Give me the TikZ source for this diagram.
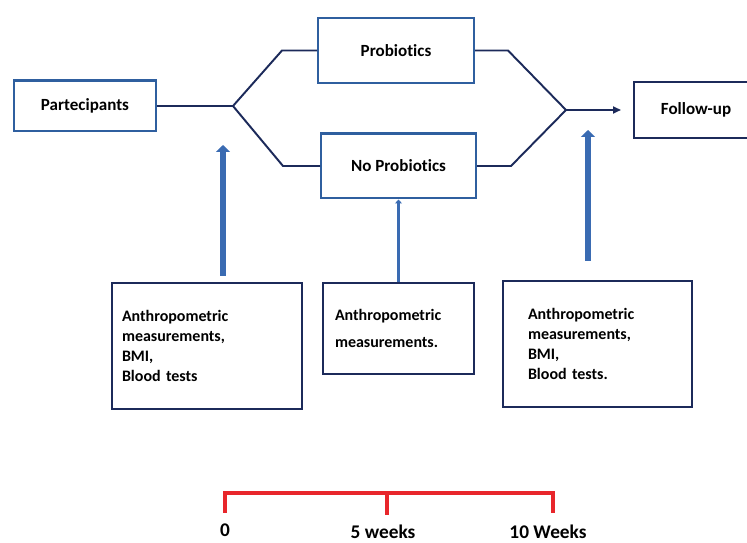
\documentclass[tikz,border=0pt]{standalone}
\usepackage{fontspec}
\setmainfont{Carlito}[Ligatures=NoCommon]
\usetikzlibrary{arrows.meta}
\definecolor{boxblue}{HTML}{2F5F9F}
\definecolor{navy}{HTML}{1C2A5A}
\definecolor{arrblue}{HTML}{3A6BB2}
\definecolor{tlred}{HTML}{E8262B}
\tikzset{
  armbox/.style={draw=boxblue, line width=1.15pt, fill=white, font=\fontsize{9.7}{12}\selectfont\bfseries},
  measbox/.style={draw=navy, line width=1.3pt, align=left, font=\fontsize{9.1}{11.4}\selectfont\bfseries},
  link/.style={draw=navy, line width=1.1pt},
  upthick/.style={draw=arrblue, line width=3.4pt, -{Triangle[length=0.14cm,width=0.28cm]}},
  upthin/.style={draw=arrblue, line width=1.5pt, -{Triangle[length=0.08cm,width=0.14cm]}},
  weeklabel/.style={font=\fontsize{11}{13}\selectfont\bfseries}
}
\begin{document}
\begin{tikzpicture}[x=0.02cm,y=-0.02cm]
			\useasboundingbox (0,0) rectangle (747,543);
			% Draw study arms
			\node[armbox, minimum width=2.84cm, minimum height=1.02cm] (part) at (85,106) {Partecipants};
			\node[armbox, minimum width=3.12cm, minimum height=1.3cm] (prob) at (396,50.5) {Probiotics};
			\node[armbox, minimum width=3.1cm, minimum height=1.3cm] (noprob) at (398.5,166) {No Probiotics};
			\node[armbox, draw=navy, minimum width=2.48cm, minimum height=1.12cm] (follow) at (696,110) {Follow-up};
			% Draw split and merge
			\coordinate (split) at (233,106);
			\coordinate (merge) at (566,110);
			\draw[link] (part.east) -- (split);
			\draw[link] (split) -- (282,50.5) -- (prob.west);
			\draw[link] (split) -- (283,166) -- (noprob.west);
			\draw[link] (prob.east) -- (508,50.5) -- (merge);
			\draw[link] (noprob.east) -- (511,166) -- (merge);
			\draw[link, -{Triangle[length=0.16cm,width=0.14cm]}, shorten >=0.24cm] (merge) -- (follow.west);
			% Draw measurement boxes
			\node[measbox, text width=3.4cm, minimum width=3.8cm, minimum height=2.52cm, inner xsep=0.2cm] (m0) at (207,346)
				{Anthropometric\\measurements,\\BMI,\\Blood tests};
			\node[measbox, text width=2.54cm, minimum width=3.02cm, minimum height=1.82cm, inner xsep=0.24cm] (m5) at (398.5,328.5)
				{Anthropometric\\[4pt]measurements.\\[6pt]};
			\node[measbox, text width=2.78cm, minimum width=3.78cm, minimum height=2.52cm, inner xsep=0.5cm] (m10) at (597.5,344)
				{Anthropometric\\measurements,\\BMI,\\Blood tests.};
			% Draw blue arrows
			\coordinate (up0) at (223,145);
			\coordinate (up10) at (588,130);
			\draw[upthick] (m0.north -| up0) ++(0,-6) -- (up0);
			\draw[upthin] (m5.north) -- (noprob.south);
			\draw[upthick] (m10.north -| up10) ++(0,-19) -- (up10);
			% Draw time line
			\draw[tlred, line width=2.3pt] (225,513) -- (225,493) -- (553,493) -- (553,513);
			\draw[tlred, line width=2.3pt] (387,493) -- (387,515);
			\node[weeklabel] (w0) at (225,530) {0};
			\node[weeklabel] (w5) at (383,532) {5 weeks};
			\node[weeklabel] (w10) at (548,532) {10 Weeks};
		\end{tikzpicture}
\end{document}
